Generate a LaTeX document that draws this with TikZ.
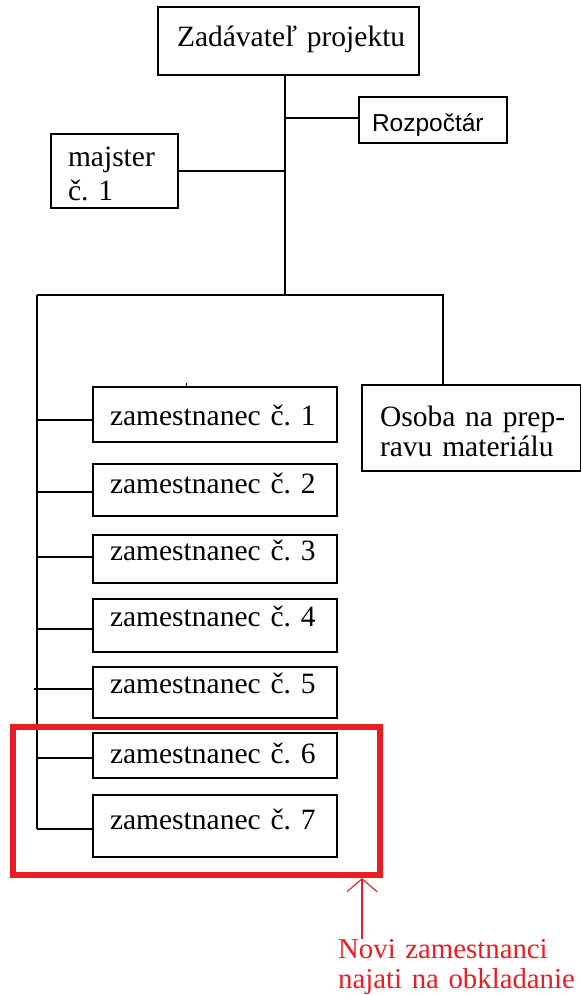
\documentclass[tikz,border=0pt]{standalone}
\usepackage{fontspec}
\setmainfont{Liberation Serif}
\newfontfamily\rsans{Liberation Sans}
\usetikzlibrary{arrows.meta,calc}
\definecolor{redmark}{RGB}{237,28,36}
\newcommand{\fsmain}{\fontsize{29.5}{34}\selectfont}
\frenchspacing
\begin{document}
\frenchspacing
\begin{tikzpicture}[x=1pt,y=1pt,
  box/.style={draw=black, line width=1.6pt, anchor=base west, inner ysep=0pt,
    outer sep=0pt, align=left, font=\fsmain},
  wire/.style={draw=black, line width=1.5pt},
  redbox/.style={draw=redmark, line width=6pt, inner sep=0pt, outer sep=0pt},
  redarrow/.style={draw=redmark, line width=1.5pt,
    -{Straight Barb[length=13pt,width=30pt,line width=1.1pt]}},
  redtext/.style={text=redmark, font=\fontsize{28.8}{30}\selectfont, anchor=base west,
    inner sep=0pt, align=left, text width=243pt}]
\path[fill=white, use as bounding box] (0,0) rectangle (582,-995);

% boxes
\node[box, inner xsep=19pt, text width=223pt, text height=40pt, text depth=28pt] (Z) at (158,-47) {\mbox{Zadávateľ projektu}};
\node[box, font=\rsans\fontsize{24.5}{30}\selectfont, inner xsep=13pt, text width=122pt, text height=35pt, text depth=11pt] (R) at (359,-132) {\mbox{Rozpočtár}};
\node[box, inner xsep=17pt, text width=93pt, text height=33pt, text depth=41pt] (M) at (51,-167) {\mbox{majster}\\\mbox{č. 1}};
\node[box, font=\fontsize{29.5}{30}\selectfont, inner xsep=18pt, text width=182.5pt, text height=41pt, text depth=45pt] (O) at (362,-426) {\mbox{Osoba na prep-}\\\mbox{ravu materiálu}};

\node[box, inner xsep=17pt, text width=210pt, text height=38pt, text depth=17pt] (e1) at (93,-425) {\mbox{zamestnanec č. 1}};
\node[box, inner xsep=17pt, text width=210pt, text height=29pt, text depth=23pt] (e2) at (93,-493) {\mbox{zamestnanec č. 2}};
\node[box, inner xsep=17pt, text width=210pt, text height=25pt, text depth=23pt] (e3) at (93,-560) {\mbox{zamestnanec č. 3}};
\node[box, inner xsep=17pt, text width=210pt, text height=27pt, text depth=26pt] (e4) at (93,-626) {\mbox{zamestnanec č. 4}};
\node[box, inner xsep=17pt, text width=210pt, text height=26pt, text depth=25pt] (e5) at (93,-693) {\mbox{zamestnanec č. 5}};
\node[box, inner xsep=17pt, text width=210pt, text height=30pt, text depth=15pt] (e6) at (93,-763) {\mbox{zamestnanec č. 6}};
\node[box, inner xsep=17pt, text width=210pt, text height=34pt, text depth=28pt] (e7) at (93,-829) {\mbox{zamestnanec č. 7}};

% connectors
\coordinate (t) at (285,-295);
\coordinate (bl) at (37,-295);
\coordinate (br) at (443,-295);
\draw[wire] (Z.south -| t) -- (t);
\draw[wire] ([yshift=2pt]R.west -| t) -- ([yshift=2pt]R.west);
\draw[wire] (M.east) -- (M.east -| t);
\draw[wire] (bl) -- (br) -- (br |- O.north);
\draw[wire] (bl) -- ([yshift=-3pt]e7.west -| bl);
\draw[wire] ([yshift=-5.5pt]e1.west) -- ([yshift=-5.5pt]e1.west -| bl);
\draw[wire] ([yshift=-2pt]e2.west) -- ([yshift=-2pt]e2.west -| bl);
\draw[wire] ([yshift=2pt]e3.west) -- ([yshift=2pt]e3.west -| bl);
\draw[wire] ([yshift=-3.5pt]e4.west) -- ([yshift=-3.5pt]e4.west -| bl);
\draw[wire] ([yshift=3.5pt]e5.west) -- ([yshift=3.5pt]e5.west -| bl) -- ++(-3,0);
\draw[wire] ([yshift=-2.5pt]e6.west) -- ([yshift=-2.5pt]e6.west -| bl);
\draw[wire] ([yshift=-3pt]e7.west) -- ([yshift=-3pt]e7.west -| bl);
\coordinate (tk) at (186,-383);
\draw[draw=black, line width=1pt] (tk) -- (tk |- e1.north);

% highlight group
\node[redbox, minimum width=367pt, minimum height=148pt, anchor=north west] (G) at (13,-727) {};
\node[redtext] (N) at (338,-958) {\mbox{Novi zamestnanci}\\\mbox{najati na obkladanie}};
\coordinate (ax) at (362,0);
\draw[redarrow] (N.north -| ax) -- ([yshift=-3pt]G.south -| ax);
\end{tikzpicture}
\end{document}
